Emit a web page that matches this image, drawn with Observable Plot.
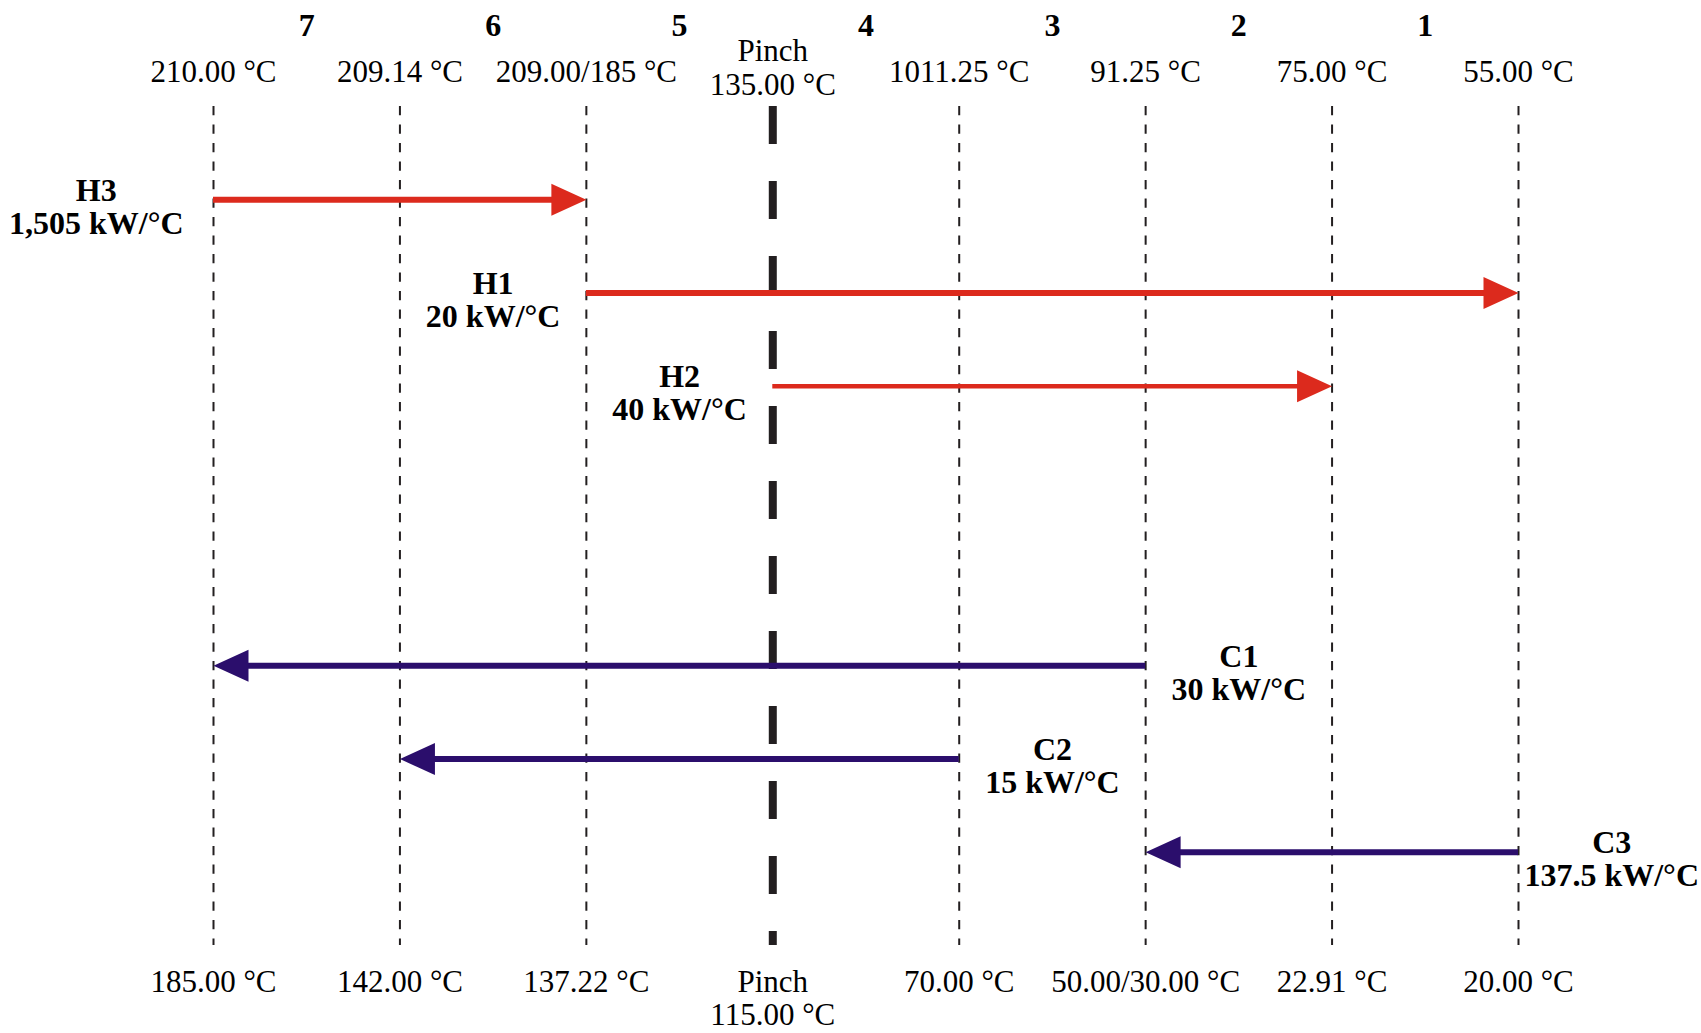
<!DOCTYPE html>
<html>
<head>
<meta charset="utf-8">
<script src="https://cdn.jsdelivr.net/npm/d3@7"></script>
<script src="https://cdn.jsdelivr.net/npm/@observablehq/plot@0.6"></script>
<style>
  html, body { margin: 0; padding: 0; background: #fff; overflow: hidden; }
  #chart svg { display: block; }
</style>
</head>
<body>
<div id="chart"></div>
<script>
// Temperature interval boundaries, hottest on the left (shifted hot / cold scales)
const boundaryIndex = [0, 1, 2, 3, 4, 5, 6, 7];
const hotLabels = ["210.00 °C", "209.14 °C", "209.00/185 °C", "135.00 °C", "1011.25 °C", "91.25 °C", "75.00 °C", "55.00 °C"];
const coldLabels = ["185.00 °C", "142.00 °C", "137.22 °C", "115.00 °C", "70.00 °C", "50.00/30.00 °C", "22.91 °C", "20.00 °C"];
const pinchIndex = 3;
const intervalNames = ["7", "6", "5", "4", "3", "2", "1"];

// Process streams: supply / target boundary and heat capacity flow rate
const streamNames = ["H3", "H1", "H2", "C1", "C2", "C3"];
const streamKind = ["hot", "hot", "hot", "cold", "cold", "cold"];
const streamSupply = [0, 2, 3, 5, 4, 7];
const streamTarget = [2, 7, 6, 0, 1, 5];
const streamCP = ["1,505 kW/°C", "20 kW/°C", "40 kW/°C", "30 kW/°C", "15 kW/°C", "137.5 kW/°C"];

const HOT = "#dc2a1d";
const COLD = "#2b0e6c";
const INK = "#231f20";
const FONT = "'Liberation Serif', 'Times New Roman', Times, serif";

// Hot streams fill the upper rows, cold streams the lower rows (two empty rows between)
const streams = streamNames.map((name, i) => {
  const kind = streamKind[i];
  const order = streamKind.slice(0, i).filter(k => k === kind).length;
  return {
    name, kind,
    supply: streamSupply[i],
    target: streamTarget[i],
    cp: streamCP[i],
    row: kind === "hot" ? order : order + 5,
    labelX: kind === "hot" ? streamSupply[i] - 0.5 : streamSupply[i] + 0.5
  };
});
const hot = streams.filter(d => d.kind === "hot");
const cold = streams.filter(d => d.kind === "cold");

const boundaries = boundaryIndex.map(i => ({i, hot: hotLabels[i], cold: coldLabels[i]}));
const intervals = intervalNames.map((name, k) => ({name, mid: k + 0.5}));

// Filled arrowheads with the tip at the symbol origin
const headRight = {draw(ctx) { ctx.moveTo(0, 0); ctx.lineTo(-35, -16); ctx.lineTo(-35, 16); ctx.closePath(); }};
const headLeft = {draw(ctx) { ctx.moveTo(0, 0); ctx.lineTo(35, -16); ctx.lineTo(35, 16); ctx.closePath(); }};

const chart = Plot.plot({
  width: 1701,
  height: 1033,
  marginTop: 106,
  marginBottom: 88,
  marginLeft: 213,
  marginRight: 183,
  x: {type: "linear", domain: [0, 7], axis: null},
  y: {type: "linear", domain: [-1, 8], reverse: true, axis: null},
  style: {fontFamily: FONT, background: "#fff", color: INK},
  marks: [
    // interval boundaries
    Plot.ruleX(boundaries.filter(d => d.i !== pinchIndex), {
      x: "i", stroke: INK, strokeWidth: 2, strokeDasharray: "9.3,9.2"
    }),
    // pinch
    Plot.ruleX(boundaries.filter(d => d.i === pinchIndex), {
      x: "i", stroke: INK, strokeWidth: 8, strokeDasharray: "38,37"
    }),
    // stream bodies
    Plot.ruleY(hot, {
      y: "row", x1: "supply", x2: "target", insetRight: 20,
      stroke: HOT, strokeWidth: d => d.name === "H2" ? 4.5 : 6
    }),
    Plot.ruleY(cold, {
      y: "row", x1: "target", x2: "supply", insetLeft: 20,
      stroke: COLD, strokeWidth: 6
    }),
    // arrowheads at target temperatures
    Plot.dot(hot, {x: "target", y: "row", symbol: headRight, fill: HOT, stroke: "none", r: 10}),
    Plot.dot(cold, {x: "target", y: "row", symbol: headLeft, fill: COLD, stroke: "none", r: 10}),
    // stream labels
    Plot.text(streams.filter(d => d.labelX >= 0), {
      x: "labelX", y: "row", text: d => `${d.name}\n${d.cp}`,
      fontSize: 32, fontWeight: "bold", lineAnchor: "middle", lineHeight: 1.03, dy: 7, fill: "#000"
    }),
    Plot.text(streams.filter(d => d.labelX < 0), {
      x: "labelX", y: "row", text: d => `${d.name}\n${d.cp}`,
      fontSize: 32, fontWeight: "bold", lineAnchor: "middle", lineHeight: 1.03, dy: 7, dx: -24, fill: "#000"
    }),
    // interval numbers
    Plot.text(intervals, {
      x: "mid", text: "name", frameAnchor: "top", dy: -81,
      fontSize: 32, fontWeight: "bold", lineAnchor: "middle", fill: "#000"
    }),
    // hot-side temperatures
    Plot.text(boundaries.filter(d => d.i !== pinchIndex), {
      x: "i", text: "hot", frameAnchor: "top", dy: -34.5,
      fontSize: 31, lineAnchor: "middle", fill: "#000"
    }),
    Plot.text(boundaries.filter(d => d.i === pinchIndex), {
      x: "i", text: d => `Pinch\n${d.hot}`, frameAnchor: "top", dy: -39,
      fontSize: 31, lineAnchor: "middle", lineHeight: 1.08, fill: "#000"
    }),
    // cold-side temperatures
    Plot.text(boundaries, {
      x: "i", text: d => d.i === pinchIndex ? `Pinch\n${d.cold}` : d.cold,
      frameAnchor: "bottom", dy: 23,
      fontSize: 31, lineAnchor: "top", lineHeight: 1.06, fill: "#000"
    })
  ]
});

document.getElementById("chart").appendChild(chart);
</script>
</body>
</html>
